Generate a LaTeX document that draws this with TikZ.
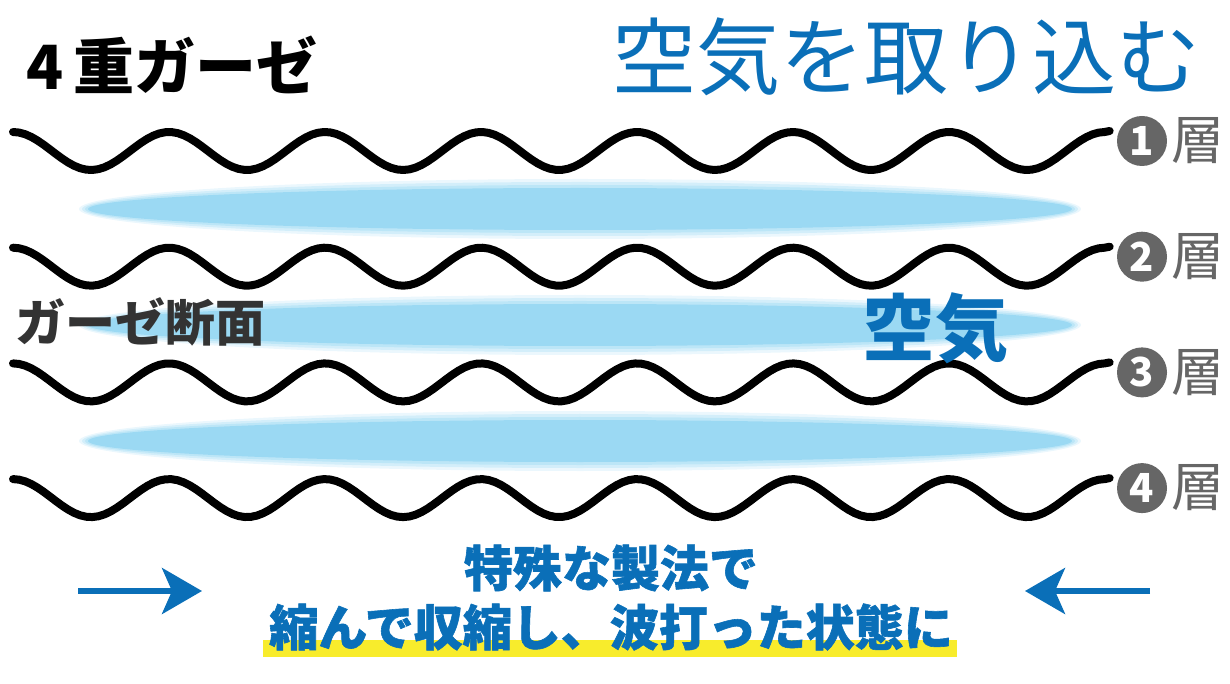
\documentclass[tikz,border=0pt]{standalone}
\usepackage{fontspec}
\setmainfont{Noto Sans CJK JP}
\usetikzlibrary{arrows.meta,positioning}
\definecolor{airblue}{HTML}{9BD9F3}
\definecolor{titleblue}{HTML}{0A6FB8}
\definecolor{layergray}{HTML}{666666}
\definecolor{markyellow}{HTML}{F8EC2C}

\begin{document}
\begin{tikzpicture}[x=1pt, y=1pt,
  wave/.style={line width=8pt, line cap=round, line join=round, black},
  air/.style={fill=airblue, draw=none},
  numdot/.style={circle, fill=layergray, text=white, inner sep=0pt,
    minimum size=50pt, font=\fontsize{40}{40}\selectfont\bfseries},
  layer/.style={text=layergray, inner sep=0pt, font=\fontsize{53}{53}\selectfont},
  push/.style={-{Stealth[length=40pt, width=46pt, inset=10pt]}, line width=5.5pt, titleblue},
  lead/.style={text=titleblue, inner sep=0pt,
    font=\fontsize{49}{49}\selectfont\bfseries\addfontfeature{FakeBold=1.2}},
]
  \useasboundingbox (0,0) rectangle (1230,683);

  % air between the layers
  \foreach \yy in {474,358,242} {
    \foreach \grow/\op in {9/0.2,6/0.3,3/0.4,0/1} {
      \fill[air, fill opacity=\op] (580,\yy) ellipse ({492+\grow} and {21+\grow});
    }
  }

  % the four gauze layers
  \foreach \k in {0,...,3} {
    \pgfmathsetmacro{\yc}{532-115.7*\k}
    \draw[wave] plot[domain=0:7, samples=180] ({13+156*\x}, {\yc+19*cos(360*\x)}) -- ++(5,1);
  }
  \foreach \k in {1,...,4} {
    \node[numdot] (n\k) at (1142, {542-115.7*(\k-1)}) {\k};
    \node[layer, right=4pt of n\k] (l\k) {層};
  }

  \node[anchor=west, inner sep=0pt, font=\fontsize{61}{61}\selectfont\bfseries] (gauze) at (26,618) {4\,重ガーゼ};
  \node[inner sep=0pt, text=titleblue, font=\fontsize{84}{84}\selectfont] (intake) at (906,626) {空気を取り込む};
  \node[inner sep=0pt, text=black!80, font=\fontsize{50}{50}\selectfont\bfseries] (section) at (140,361) {ガーゼ断面};
  \node[inner sep=0pt, text=titleblue, font=\fontsize{73}{73}\selectfont\bfseries] (air) at (935,355) {空気};

  % shrinking by the process
  \node[fill=markyellow, inner sep=0pt, minimum width=694pt, minimum height=17pt] (mark) at (610,34.5) {};
  \node[lead] (method) at (611,115) {特殊な製法で};
  \node[lead] (shrink) at (611,56) {縮んで収縮し、波打った状態に};

  \coordinate (la) at (78,92);
  \coordinate (lb) at (202,92);
  \coordinate (ra) at (1150,92);
  \coordinate (rb) at (1025,92);
  \draw[push] (la) -- (lb);
  \draw[push] (ra) -- (rb);
\end{tikzpicture}
\end{document}
